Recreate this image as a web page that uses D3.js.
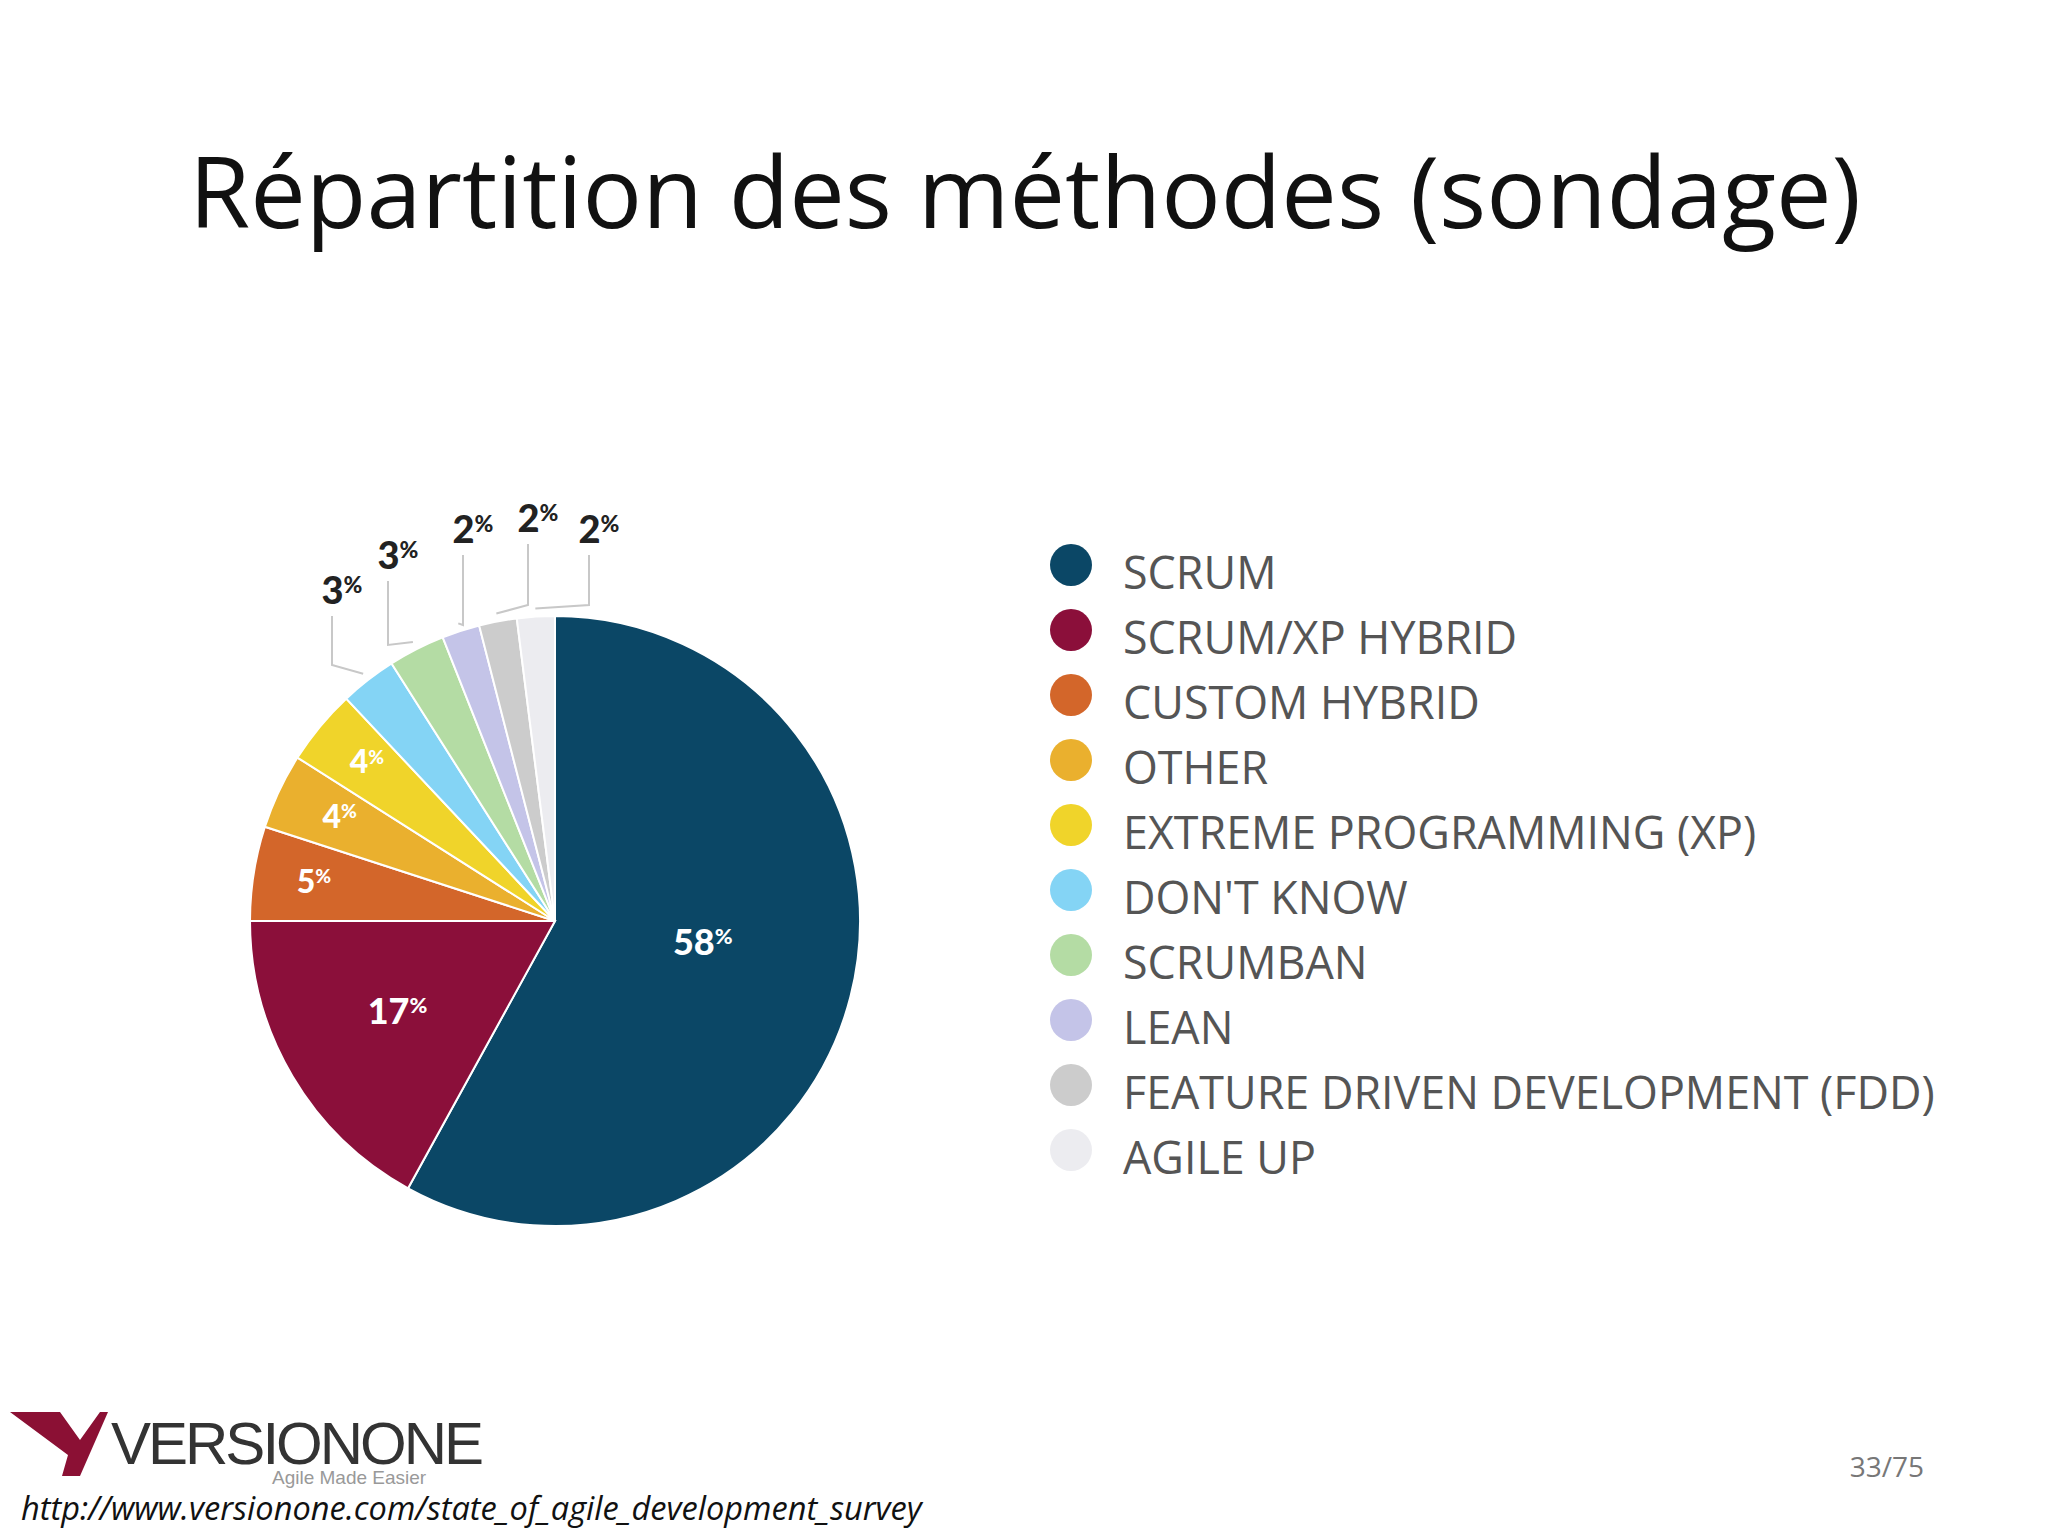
<!DOCTYPE html>
<html><head><meta charset="utf-8">
<script src="https://cdn.jsdelivr.net/npm/d3@7"></script>
<style>body{margin:0;background:#fff}</style></head>
<body><svg id="c" width="2048" height="1536"></svg>
<script>
const categories = ["SCRUM","SCRUM/XP HYBRID","CUSTOM HYBRID","OTHER","EXTREME PROGRAMMING (XP)","DON'T KNOW","SCRUMBAN","LEAN","FEATURE DRIVEN DEVELOPMENT (FDD)","AGILE UP"];
const values = [58,17,5,4,4,3,3,2,2,2];
const colors = ["#0b4766","#8b0f3a","#d3662a","#eab02e","#f0d42a","#84d4f5","#b4dca4","#c4c4e8","#cccccc","#ececf0"];
const title = "Répartition des méthodes (sondage)";

const svg = d3.select("#c");
function fit(t,w){const n=t.node();const l=n.getComputedTextLength();const s=parseFloat(t.attr("font-size"))*w/l;t.attr("font-size",s);return s;}

const tt=svg.append("text").attr("x",1025).attr("y",228).attr("text-anchor","middle")
  .attr("font-family","Open Sans").attr("font-size",100).attr("fill","#111").text(title);
fit(tt,1672);

const cx=555, cy=921, R=305;
const g=svg.append("g").attr("transform",`translate(${cx},${cy})`);
const pie=d3.pie().sort(null).value(d=>d)(values);
const arc=d3.arc().innerRadius(0).outerRadius(R);
g.selectAll("path").data(pie).enter().append("path").attr("d",arc)
  .attr("fill",(d,i)=>colors[i]).attr("stroke","#fff").attr("stroke-width",2);

const inFrac=[0.5,0.6,0.8,0.78,0.8];
const inDy=[-14,0,0,-2,-2];
pie.forEach((d,i)=>{
  if(i<5){
    const a=(d.startAngle+d.endAngle)/2, r=R*inFrac[i];
    g.append("text").attr("x",Math.sin(a)*r).attr("y",-Math.cos(a)*r+10+inDy[i])
      .attr("text-anchor","middle").attr("font-family","Lato").attr("font-weight","900")
      .attr("fill","#fff").attr("font-size",i<2?36:32)
      .html(`${values[i]}<tspan font-size="0.6em" dy="-0.5em">%</tspan>`);
  }
});
const outPos=[[342,604],[398,569],[473,543],[538,532],[599,543]];
const elbowY=[665,645,625,605,605];
pie.forEach((d,i)=>{
  if(i>=5){
    const k=i-5, a=(d.startAngle+d.endAngle)/2;
    const px=cx+Math.sin(a)*(R+8), py=cy-Math.cos(a)*(R+8);
    const lx=outPos[k][0]-10;
    svg.append("polyline").attr("points",`${lx},${outPos[k][1]+12} ${lx},${elbowY[k]} ${px},${py}`)
      .attr("fill","none").attr("stroke","#c8c8c8").attr("stroke-width",2);
    svg.append("text").attr("x",outPos[k][0]).attr("y",outPos[k][1]).attr("text-anchor","middle")
      .attr("font-family","Lato").attr("font-weight","900").attr("fill","#222").attr("font-size",38)
      .html(`${values[i]}<tspan font-size="0.6em" dy="-0.5em">%</tspan>`);
  }
});

const lg=svg.append("g");
const texts=[];
categories.forEach((c,i)=>{
  const y=565+i*65;
  lg.append("circle").attr("cx",1071).attr("cy",y).attr("r",21).attr("fill",colors[i]);
  texts.push(lg.append("text").attr("x",1123).attr("y",y+24).attr("font-family","Open Sans")
    .attr("font-size",40).attr("fill","#555").text(c));
});
const ls=fit(texts[8],812);
texts.forEach(t=>t.attr("font-size",ls));

svg.append("path").attr("d","M10,1412 L60,1412 L80,1440 L100,1412 L108,1412 L80,1476 L62,1476 L68,1455 Z").attr("fill","#8b1034");
svg.append("text").attr("x",111).attr("y",1464).attr("font-family","Liberation Sans").attr("font-size",60)
  .attr("fill","#333").attr("letter-spacing",-3).text("VERSIONONE");
svg.append("text").attr("x",272).attr("y",1484).attr("font-family","Liberation Sans").attr("font-size",19).attr("fill","#999").text("Agile Made Easier");
const u=svg.append("text").attr("x",21).attr("y",1520).attr("font-family","Open Sans").attr("font-style","italic")
  .attr("font-size",30).attr("fill","#111").text("http://www.versionone.com/state_of_agile_development_survey");
fit(u,901);
svg.append("text").attr("x",1924).attr("y",1477).attr("text-anchor","end").attr("font-family","Open Sans")
  .attr("font-size",28).attr("fill","#777").text("33/75");
</script></body></html>
